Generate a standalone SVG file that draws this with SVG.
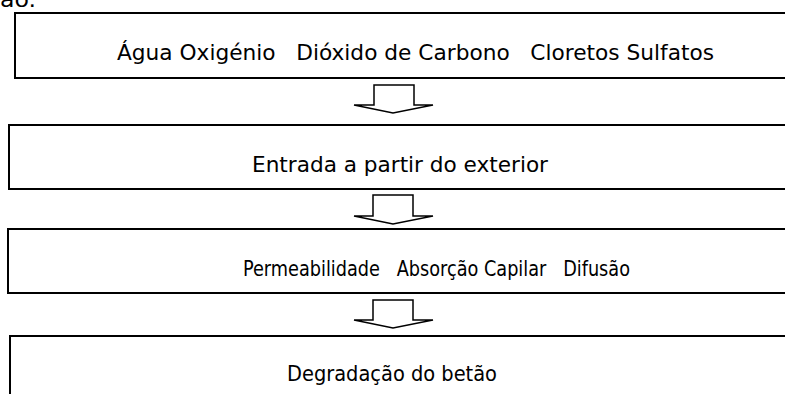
<svg xmlns="http://www.w3.org/2000/svg" width="785" height="394" viewBox="0 0 785 394">
<style>
.box{fill:#fff;stroke:#000;stroke-width:2}
.arr{fill:#fff;stroke:#000;stroke-width:1.5;stroke-linejoin:miter}
text{font-family:"DejaVu Sans",sans-serif;font-stretch:condensed;font-size:21px;fill:#000}
</style>
<rect width="785" height="394" fill="#fff"/>
<text x="0" y="7" textLength="36" lengthAdjust="spacingAndGlyphs">ão.</text>
<g id="n1"><rect class="box" x="15" y="13" width="790" height="65"/><text x="117" y="60" textLength="597" lengthAdjust="spacingAndGlyphs" xml:space="preserve">Água Oxigénio   Dióxido de Carbono   Cloretos Sulfatos</text></g>
<g id="n2"><rect class="box" x="9" y="125" width="796" height="64"/><text x="252" y="172" textLength="296" lengthAdjust="spacingAndGlyphs">Entrada a partir do exterior</text></g>
<g id="n3"><rect class="box" x="8" y="229" width="797" height="64"/><text x="243" y="276" textLength="387" lengthAdjust="spacingAndGlyphs" xml:space="preserve">Permeabilidade   Absorção Capilar   Difusão</text></g>
<g id="n4"><rect class="box" x="10" y="336" width="795" height="70"/><text x="287" y="381" textLength="210" lengthAdjust="spacingAndGlyphs">Degradação do betão</text></g>
<g id="connectors">
<path class="arr" d="M374,85 H414 V105 H433 L393,113 L354,105 H374 Z"/>
<path class="arr" d="M373,195 H413 V216 H433 L393,224 L354,216 H373 Z"/>
<path class="arr" d="M373,300 H413 V320 H433 L393,328 L354,320 H373 Z"/>
</g>
</svg>
